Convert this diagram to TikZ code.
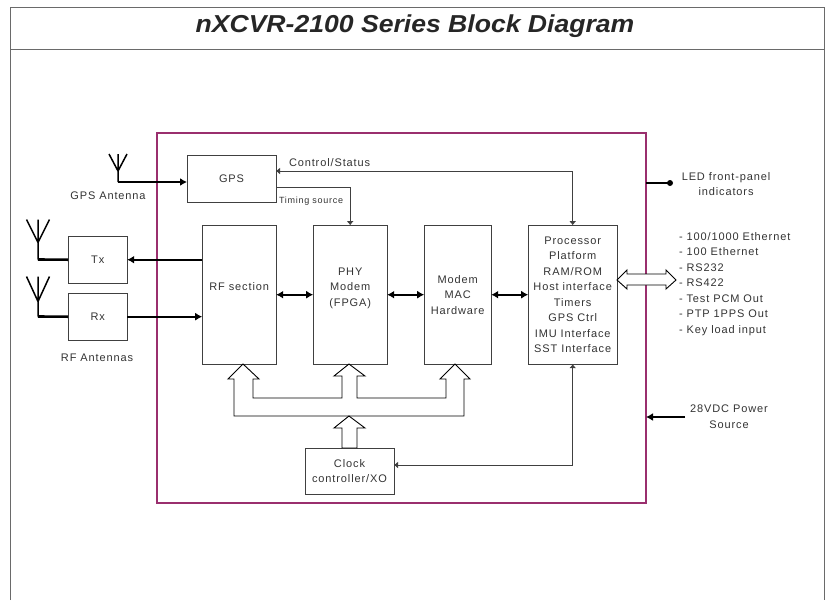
\documentclass[tikz,border=0pt]{standalone}
\usepackage{fontspec}
\usetikzlibrary{arrows.meta}
\setmainfont{Liberation Sans}
\newfontfamily\labelfont[LetterSpace=8]{Liberation Sans}
\newfontfamily\titlefont[FakeStretch=1.085]{Liberation Sans}
\definecolor{framegrey}{HTML}{6A6A6A}
\definecolor{boxgrey}{HTML}{404040}
\definecolor{textgrey}{HTML}{333333}
\definecolor{boardpurple}{HTML}{9A2F6E}
\tikzset{
    label text/.style={text=textgrey,inner sep=0pt,outer sep=0pt,align=center,font=\labelfont\fontsize{11}{15.5}\selectfont},
    block/.style={draw=boxgrey,line width=0.9pt,label text},
    thin link/.style={draw=boxgrey,line width=0.9pt,>={Latex[length=4pt,width=7pt]},->},
    thick link/.style={draw=black,line width=1.9pt,>={Latex[length=7pt,width=8pt]},->},
    bus/.style={draw=black,line width=0.9pt,fill=white,line join=miter},
}
\begin{document}
\begin{tikzpicture}[x=1pt,y=-1pt]
    \useasboundingbox (0,0) rectangle (826,600);
    % page frame and title
    \draw[framegrey,line width=1pt] (10,600) -- (10,7) -- (824,7) -- (824,600);
    \draw[framegrey,line width=1pt] (10,49) -- (824,49);
    \node[anchor=base,text=black!85,inner sep=0pt,font=\titlefont\fontsize{24.5}{30}\selectfont\bfseries\itshape] (title) at (415,32) {nXCVR-2100 Series Block Diagram};
    % board outline
    \node[draw=boardpurple,line width=1.9pt,outer sep=0pt,minimum width=489pt,minimum height=370pt,anchor=north west] (board) at (157,133) {};
    % blocks
    \node[block,minimum width=89pt,minimum height=47pt,anchor=north west] (gps) at (187,155) {GPS};
    \matrix [anchor=north west,inner sep=0pt,column sep=36.1pt,nodes={block,minimum height=139pt}] at (201.55,224.55) {
        \node[minimum width=74pt] (rf) {RF section\\~}; &
        \node[minimum width=74pt] (phy) {PHY\\Modem\\(FPGA)\\~}; &
        \node[minimum width=67pt] (mac) {Modem\\MAC\\Hardware}; &
        \node[minimum width=89pt] (proc) {Processor\\Platform\\RAM/ROM\\Host interface\\Timers\\GPS Ctrl\\IMU Interface\\SST Interface}; \\
    };
    \matrix [anchor=north west,inner sep=0pt,row sep=9.1pt,nodes={block,minimum width=59pt,minimum height=47pt}] at (67.55,235.55) {
        \node (tx) {Tx}; \\
        \node (rx) {Rx}; \\
    };
    \node[block,minimum width=89pt,minimum height=46pt,anchor=north west] (clock) at (305,448) {Clock\\controller/XO};
    % antennas
    \foreach \a/\x/\y/\w/\h/\j in {gpsant/118/182/9/28/11,txant/38/259.5/11.5/40/17,rxant/38/316.5/11.5/40/15}{
        \coordinate (\a) at (\x,\y);
        \draw[black,line width=1.5pt] (\x-\w,\y-\h) -- (\x,\y-\j) -- (\x+\w,\y-\h) (\x,\y-\h) -- (\x,\y);
    }
    \draw[thick link] (gpsant) -- (gpsant -| gps.west);
    \draw[black,line width=2.6pt] (txant) -- (tx.west);
    \draw[black,line width=2.6pt] (rxant) -- (rx.west);
    % links between blocks
    \draw[thick link] (rf.west |- tx.east) -- (tx.east);
    \draw[thick link] (rx.east) -- (rf.west |- rx.east);
    \draw[thick link,<->] (rf.east) -- (phy.west);
    \draw[thick link,<->] (phy.east) -- (mac.west);
    \draw[thick link,<->] (mac.east) -- (proc.west);
    \coordinate (status) at (276,171);
    \coordinate (timing) at (276,187);
    \coordinate (clockin) at (394,465);
    \draw[thin link,<->] (status) -| (proc.north);
    \draw[thin link] (timing) -| (phy.north);
    \draw[thin link,<->] (clockin) -| (proc.south);
    % clock bus
    \draw[bus] (243,364) -- (259,379) -- (253,379) -- (253,398) -- (342,398) -- (342,376) -- (334,376) -- (349,364)
        -- (365,376) -- (357,376) -- (357,398) -- (446,398) -- (446,379) -- (440,379) -- (455,364) -- (470,379)
        -- (464,379) -- (464,416) -- (234,416) -- (234,379) -- (228,379) -- cycle;
    \draw[bus] (349,416) -- (365,428) -- (357,428) -- (357,448) -- (342,448) -- (342,428) -- (334,428) -- cycle;
    % external interface arrow
    \draw[bus] (617,280) -- (627,270) -- (627,274) -- (666,274) -- (666,270) -- (676,280) -- (666,289) -- (666,285) -- (627,285) -- (627,289) -- cycle;
    % front panel and power
    \coordinate (ledend) at (670,183);
    \coordinate (powerend) at (685,417);
    \draw[black,line width=1.9pt] (ledend -| board.east) -- (ledend);
    \fill[black] (ledend) circle (3pt);
    \draw[thick link] (powerend) -- (powerend -| board.east);
    % labels
    \node[label text] (gpslabel) at (108,196) {GPS Antenna};
    \node[label text] (rflabel) at (97,358) {RF Antennas};
    \node[label text,anchor=west] (statuslabel) at (289,163) {Control/Status};
    \node[label text,anchor=west,font=\labelfont\fontsize{9}{11}\selectfont] (timinglabel) at (279,201) {Timing source};
    \node[label text] (ledlabel) at (726,184) {LED front-panel\\indicators};
    \node[label text] (powerlabel) at (729,416.5) {28VDC Power\\Source};
    \node[label text,anchor=west,align=left] (ifacelabel) at (679,284) {- 100/1000 Ethernet\\- 100 Ethernet\\- RS232\\- RS422\\- Test PCM Out\\- PTP 1PPS Out\\- Key load input};
\end{tikzpicture}
\end{document}
